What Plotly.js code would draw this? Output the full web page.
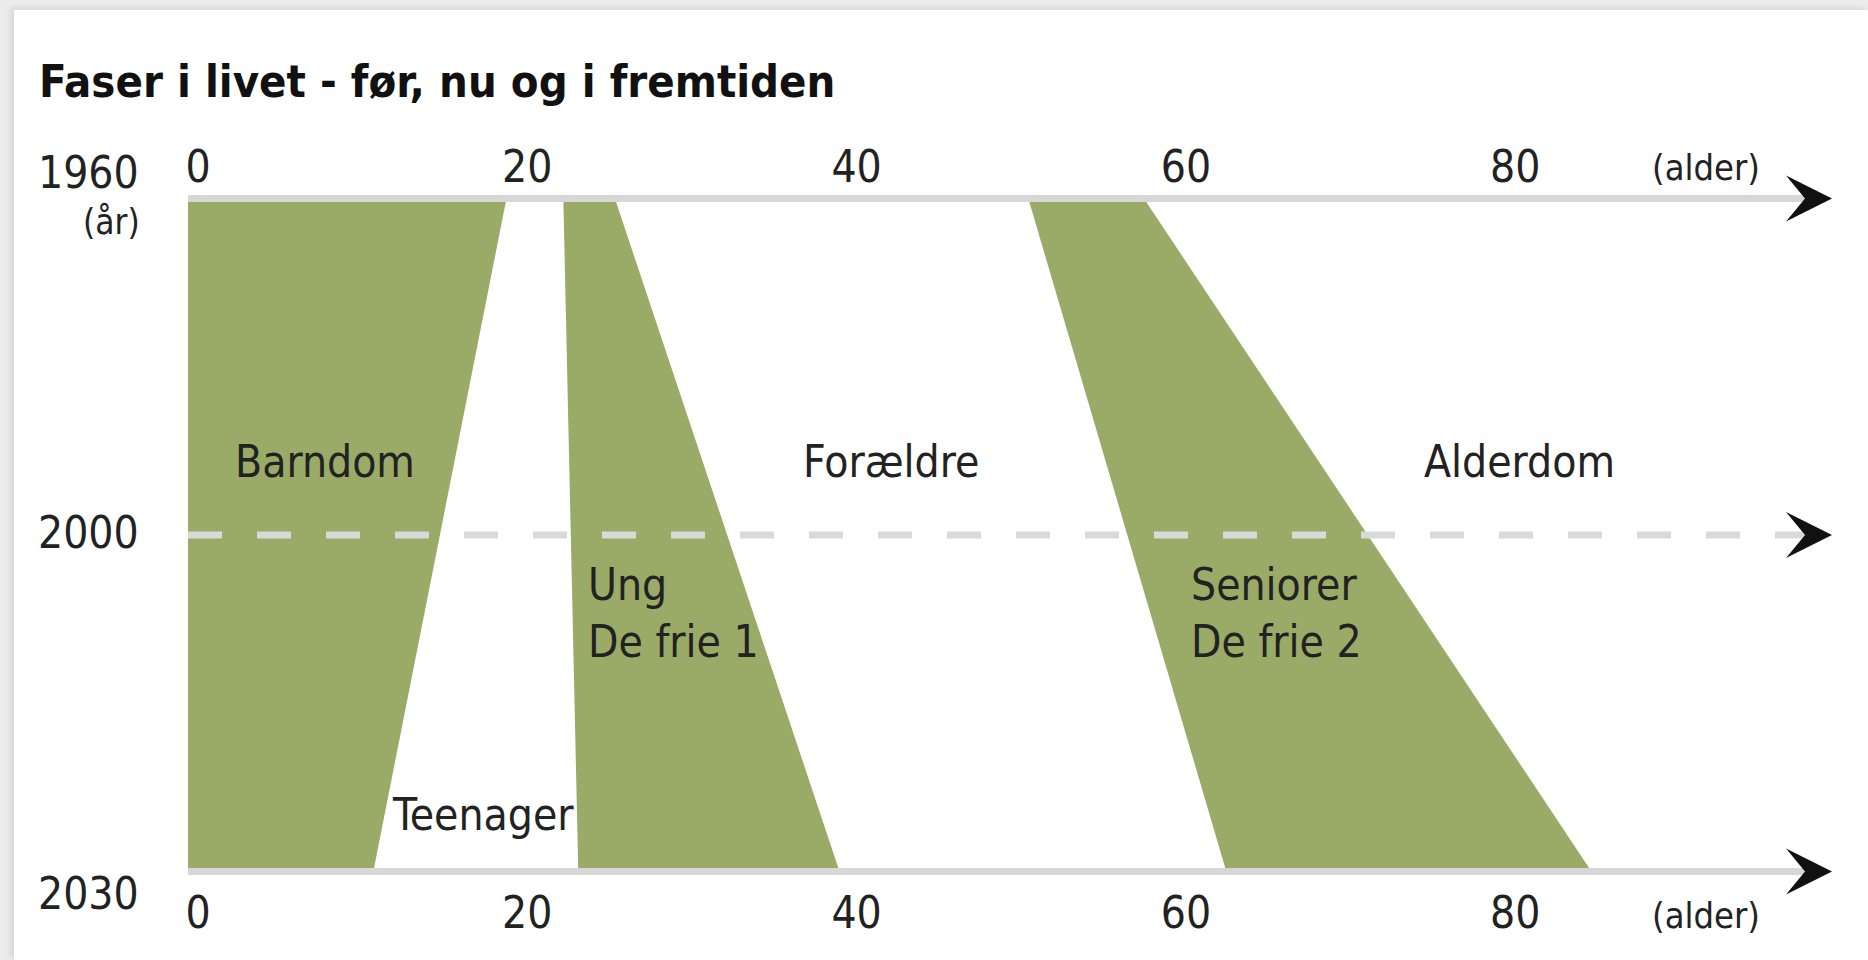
<!DOCTYPE html>
<html>
<head>
<meta charset="utf-8">
<script src="https://cdn.plot.ly/plotly-3.0.1.min.js"></script>
<style>
  html, body { margin: 0; padding: 0; width: 1868px; height: 960px; overflow: hidden; background: #ececec; }
  #card { position: absolute; left: 14px; top: 10px; right: 0; bottom: 0; background: #ffffff; box-shadow: -3px -2px 6px rgba(0,0,0,0.10); }
  #chart { position: absolute; left: 0; top: 0; width: 1868px; height: 960px; }
</style>
</head>
<body>
<div id="card"></div>
<div id="chart"></div>
<script>
// ---- data ----
const years = ['1960', '2000', '2030'];
const ageTicks = [0, 20, 40, 60, 80];
const ageTickText = ['0', '20', '40', '60', '80'];

const phaseNames = ['Barndom', 'Ung / De frie 1', 'Seniorer / De frie 2'];
const start1960 = [0, 22.8, 51.1];
const end1960   = [19.3, 26.0, 58.2];
const start2030 = [0, 23.7, 63.0];
const end2030   = [11.3, 39.5, 85.1];

const labelText = ['Barndom', 'Forældre', 'Alderdom', 'Ung', 'De frie 1', 'Seniorer', 'De frie 2', 'Teenager'];
const labelAge  = [8.32, 42.7, 80.9, 24.15, 24.15, 60.8, 60.8, 17.92];
const labelRow  = [0.78, 0.78, 0.78, 1.15, 1.32, 1.15, 1.32, 1.84];
const labelAnchor = ['center', 'center', 'center', 'left', 'left', 'left', 'left', 'center'];

const titleText = 'Faser i livet - før, nu og i fremtiden';
const yearUnit = '(år)';
const ageUnit = '(alder)';

// ---- styles ----
const FONT = 'DejaVu Sans Condensed, DejaVu Sans, sans-serif';
const GREEN = '#99ab67';
const AXIS_GRAY = '#d7d7d7';
const DASH_GRAY = '#d9d9d9';
const TEXT = '#222222';
const AGE_MAX = 99;

const traces = [];
for (let i = 0; i < phaseNames.length; i++) {
  traces.push({
    type: 'scatter',
    mode: 'lines',
    name: phaseNames[i],
    x: [start1960[i], end1960[i], end2030[i], start2030[i]],
    y: [years[0], years[0], years[2], years[2]],
    fill: 'toself',
    fillcolor: GREEN,
    line: { width: 0, color: GREEN },
    hoverinfo: 'skip',
    showlegend: false
  });
}
// the "now" line (2000)
traces.push({
  type: 'scatter',
  mode: 'lines',
  x: [0, AGE_MAX],
  y: [years[1], years[1]],
  xaxis: 'x2',
  line: { color: DASH_GRAY, width: 7, dash: '34px,35px' },
  hoverinfo: 'skip',
  showlegend: false
});

const annotations = [];
for (let i = 0; i < labelText.length; i++) {
  annotations.push({
    text: labelText[i], x: labelAge[i], y: labelRow[i], xref: 'x', yref: 'y',
    xanchor: labelAnchor[i], yanchor: 'middle', showarrow: false,
    font: { family: FONT, size: 44, color: TEXT }
  });
}
// year labels at left
const yearShift = [30, 3, -25];
for (let i = 0; i < years.length; i++) {
  annotations.push({
    text: years[i], x: 0, y: i, xref: 'paper', yref: 'y',
    xanchor: 'right', yanchor: 'middle', xshift: -47, yshift: yearShift[i],
    showarrow: false, font: { family: FONT, size: 44, color: TEXT }
  });
}
annotations.push({
  text: yearUnit, x: 0, y: 0, xref: 'paper', yref: 'y',
  xanchor: 'right', yanchor: 'middle', xshift: -46, yshift: -20,
  showarrow: false, font: { family: FONT, size: 35, color: TEXT }
});
annotations.push({
  text: ageUnit, x: 92.2, y: 1, xref: 'x', yref: 'paper',
  xanchor: 'center', yanchor: 'middle', yshift: 35,
  showarrow: false, font: { family: FONT, size: 36, color: TEXT }
});
annotations.push({
  text: ageUnit, x: 92.2, y: 0, xref: 'x', yref: 'paper',
  xanchor: 'center', yanchor: 'middle', yshift: -47,
  showarrow: false, font: { family: FONT, size: 36, color: TEXT }
});

// arrow heads at the right end of each time line
function arrowAt(yPaper, dy) {
  return {
    type: 'path', xref: 'paper', yref: 'paper',
    xsizemode: 'pixel', ysizemode: 'pixel',
    xanchor: 1.0086, yanchor: yPaper,
    path: 'M0,' + dy + ' L-46,' + (23 + dy) + ' L-27,' + dy + ' L-46,' + (-23 + dy) + ' Z',
    fillcolor: '#111111', line: { width: 0 }, layer: 'above'
  };
}
const shapes = [arrowAt(1, 3.5), arrowAt(0.5, 0), arrowAt(0, -3.5)];

const axisCommon = {
  range: [0, AGE_MAX],
  tickmode: 'array', tickvals: ageTicks, ticktext: ageTickText,
  ticks: '', showgrid: false, zeroline: false,
  showline: true, linecolor: AXIS_GRAY, linewidth: 7,
  tickfont: { family: FONT, size: 44, color: TEXT },
  ticklabelshift: 10, fixedrange: true
};

const layout = {
  width: 1868, height: 960,
  margin: { l: 188, r: 50, t: 202, b: 92 },
  paper_bgcolor: 'rgba(0,0,0,0)', plot_bgcolor: 'rgba(0,0,0,0)',
  showlegend: false,
  title: {
    text: '<b>' + titleText + '</b>',
    x: 39 / 1868, xanchor: 'left', xref: 'container',
    y: 1 - 81 / 960, yanchor: 'middle', yref: 'container',
    font: { family: FONT, size: 45, color: '#111111' }
  },
  xaxis: Object.assign({}, axisCommon, { side: 'bottom', ticklabelstandoff: 0 }),
  xaxis2: Object.assign({}, axisCommon, { side: 'top', overlaying: 'x', matches: 'x', ticklabelstandoff: -5 }),
  yaxis: {
    type: 'category', categoryorder: 'array', categoryarray: years,
    range: [2, 0], showticklabels: false, ticks: '', showgrid: false,
    zeroline: false, showline: false, fixedrange: true
  },
  annotations: annotations,
  shapes: shapes
};

Plotly.newPlot('chart', traces, layout, { displayModeBar: false, staticPlot: true });
</script>
</body>
</html>
